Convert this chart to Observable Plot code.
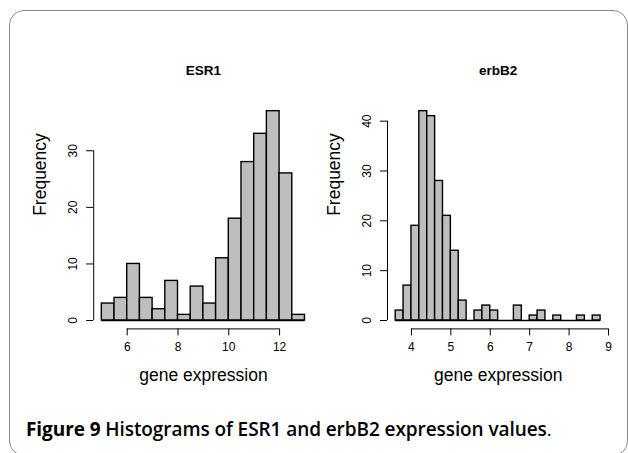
<!DOCTYPE html>
<html><head><meta charset="utf-8">
<script src="https://cdn.jsdelivr.net/npm/d3@7"></script>
<script src="https://cdn.jsdelivr.net/npm/@observablehq/plot@0.6"></script>
<style>
body{margin:0;background:#fff;}
#wrap{position:relative;width:628px;height:453px;overflow:hidden;background:#fff;}
#frame{position:absolute;left:9px;top:10px;width:619px;height:446px;border:1px solid #8a8a8a;border-radius:15px;box-sizing:border-box;}
.panel{position:absolute;top:0;}
#cap{position:absolute;left:26px;top:417px;font-family:"Open Sans",sans-serif;font-size:19px;line-height:24px;color:#000;white-space:nowrap;letter-spacing:-0.08px;}
#cap b{font-weight:700;}
#cap .sb{font-weight:600;}
#cap .dot{font-weight:400;}
</style></head>
<body>
<div id="wrap">
  <div id="frame"></div>
  <div class="panel" id="p1" style="left:0px"></div>
  <div class="panel" id="p2" style="left:314px"></div>
  <div id="cap"><b>Figure 9</b> <span class="sb">Histograms of ESR1 and erbB2 expression values</span><span class="dot">.</span></div>
</div>
<script>
// ESR1 histogram
const esr1Edges = [5, 5.5, 6, 6.5, 7, 7.5, 8, 8.5, 9, 9.5, 10, 10.5, 11, 11.5, 12, 12.5, 13];
const esr1Counts = [3, 4, 10, 4, 2, 7, 1, 6, 3, 11, 18, 28, 33, 37, 26, 1];
const esr1XTicks = [6, 8, 10, 12];
const esr1YTicks = [0, 10, 20, 30];
// erbB2 histogram
const erbb2Edges = [3.6, 3.8, 4.0, 4.2, 4.4, 4.6, 4.8, 5.0, 5.2, 5.4, 5.6, 5.8, 6.0, 6.2, 6.4, 6.6, 6.8, 7.0, 7.2, 7.4, 7.6, 7.8, 8.0, 8.2, 8.4, 8.6, 8.8];
const erbb2Counts = [2, 7, 19, 42, 41, 28, 21, 14, 4, 0, 2, 3, 2, 0, 0, 3, 0, 1, 2, 0, 1, 0, 0, 1, 0, 1];
const erbb2XTicks = [4, 5, 6, 7, 8, 9];
const erbb2YTicks = [0, 10, 20, 30, 40];

const FONT = "'Liberation Sans', Arial, Helvetica, sans-serif";

function panel({title, edges, counts, xTicks, yTicks, width, marginLeft, marginRight}) {
  const bins = counts.map((c, i) => ({x1: edges[i], x2: edges[i + 1], y: c}));
  const [e0, e1] = d3.extent(edges);
  const xpad = (e1 - e0) * 0.04;
  const ymax = d3.max(counts);
  const ypad = ymax * 0.04;
  const xlo = e0 - xpad, ylo = -ypad;
  return Plot.plot({
    width, height: 400,
    marginLeft, marginRight, marginTop: 102.3, marginBottom: 71.6,
    x: {domain: [xlo, e1 + xpad]},
    y: {domain: [ylo, ymax + ypad]},
    style: {background: "none", fontFamily: FONT, fontSize: "12px", color: "#000", overflow: "visible"},
    marks: [
      Plot.rect(bins, {x1: "x1", x2: "x2", y1: 0, y2: "y", fill: "#bebebe", stroke: "#000", strokeWidth: 1.4}),
      Plot.ruleY([0], {x1: e0, x2: e1, stroke: "#000", strokeWidth: 1.4}),
      Plot.ruleY([ylo], {x1: d3.min(xTicks), x2: d3.max(xTicks), stroke: "#000", strokeWidth: 1}),
      Plot.ruleX([xlo], {y1: d3.min(yTicks), y2: d3.max(yTicks), stroke: "#000", strokeWidth: 1}),
      Plot.axisX({ticks: xTicks, tickSize: 7, tickPadding: 7, label: null, tickFormat: d => String(d), stroke: "#000", strokeOpacity: 1}),
      Plot.axisY({ticks: yTicks, tickSize: 7, tickRotate: -90, tickPadding: 10, label: null, tickFormat: d => String(d), stroke: "#000", strokeOpacity: 1}),
      Plot.text([title], {frameAnchor: "top", dy: -37, fontWeight: "bold", fontSize: 13.5}),
      Plot.text(["gene expression"], {frameAnchor: "bottom", dy: 51.6, fontSize: 17.5}),
      Plot.text(["Frequency"], {frameAnchor: "left", dx: -53, rotate: -90, fontSize: 17.5})
    ]
  });
}

document.getElementById("p1").append(panel({
  title: "ESR1", edges: esr1Edges, counts: esr1Counts, xTicks: esr1XTicks, yTicks: esr1YTicks,
  width: 314, marginLeft: 93.2, marginRight: 1.4
}));
document.getElementById("p2").append(panel({
  title: "erbB2", edges: erbb2Edges, counts: erbb2Counts, xTicks: erbb2XTicks, yTicks: erbb2YTicks,
  width: 314, marginLeft: 73, marginRight: 19.7
}));
</script>
</body></html>
